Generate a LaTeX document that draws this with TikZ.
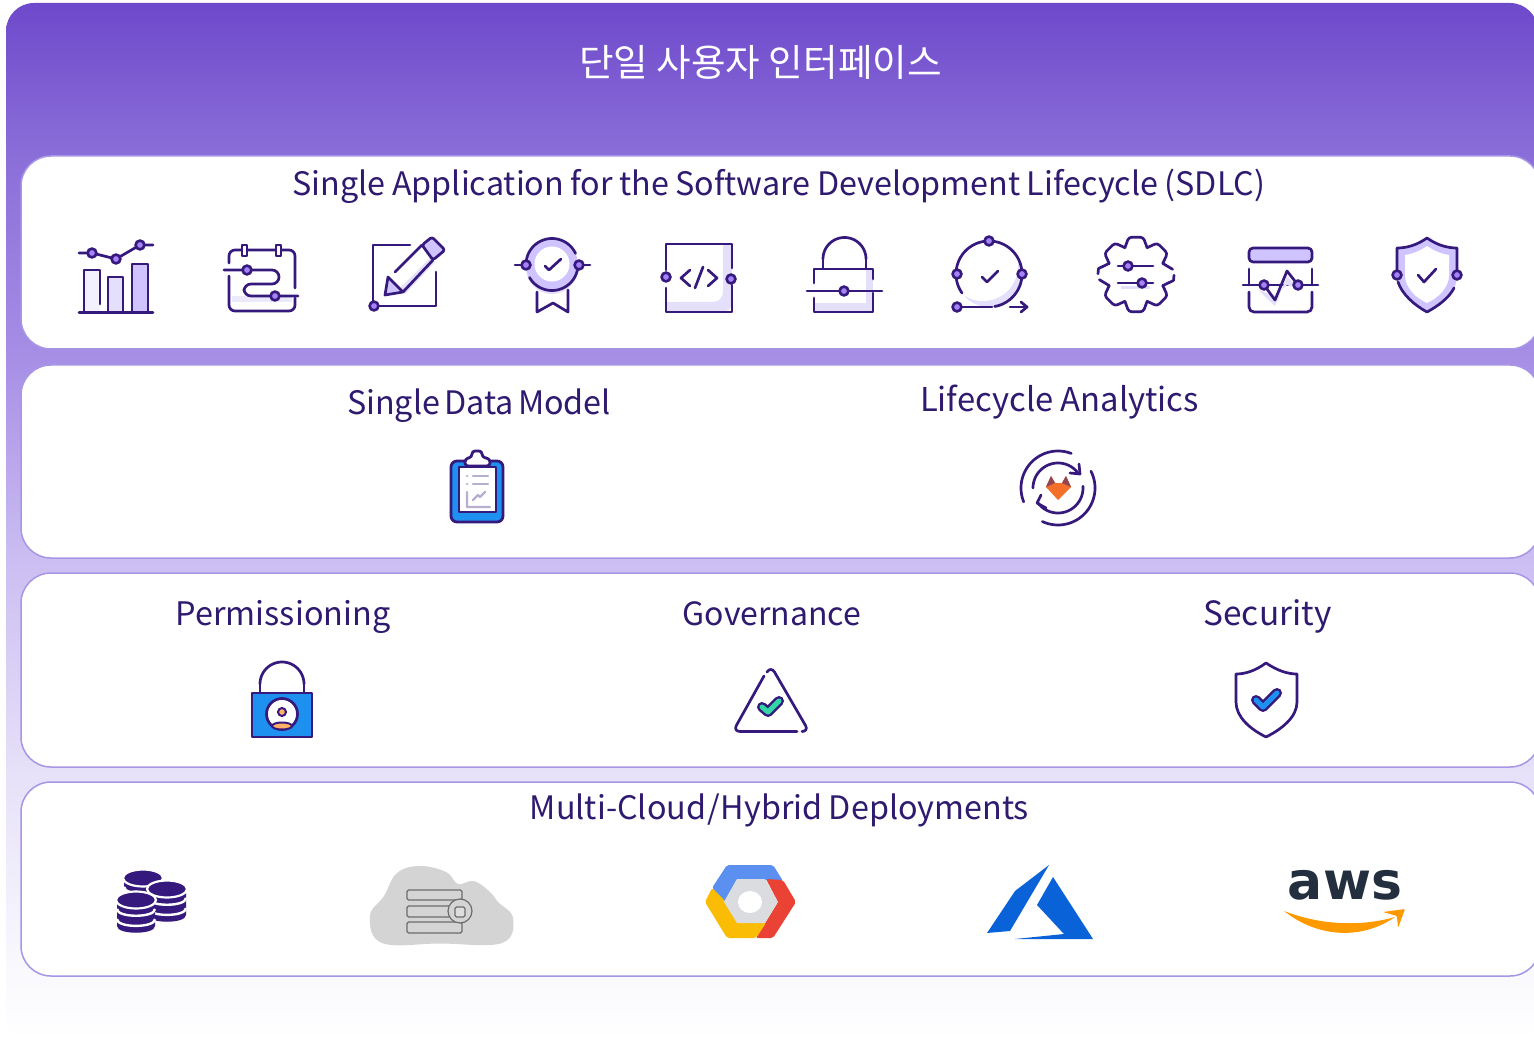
\documentclass[tikz,border=0pt]{standalone}
\usepackage{fontspec}
\setmainfont{Noto Sans CJK KR}
\newfontfamily\awsfont{DejaVu Sans}
\definecolor{icn}{HTML}{35197C}
\definecolor{dotc}{HTML}{A582F5}
\definecolor{lta}{HTML}{E4DFFB}
\definecolor{ltb}{HTML}{CFC4FF}
\definecolor{ltc}{HTML}{F3F1FD}
\definecolor{blu}{HTML}{1E90EF}
\definecolor{org}{HTML}{F2702A}
\definecolor{txt}{HTML}{2F1A70}
\definecolor{pstroke}{HTML}{A795E6}
\definecolor{gblue}{RGB}{91,143,240}
\definecolor{gred}{RGB}{234,67,53}
\definecolor{gyel}{RGB}{251,188,5}
\definecolor{ggray}{RGB}{218,220,224}
\definecolor{azu}{RGB}{10,98,216}
\definecolor{awsd}{RGB}{35,47,62}
\definecolor{awso}{RGB}{255,153,0}
\definecolor{teal1}{RGB}{51,214,166}
\definecolor{bga}{RGB}{250,250,254}
\definecolor{bgb}{RGB}{231,225,249}
\definecolor{bgc}{RGB}{205,191,242}
\definecolor{bgd}{RGB}{167,143,230}
\definecolor{bge}{RGB}{138,109,216}
\definecolor{bgf}{RGB}{110,73,203}
\pgfdeclareverticalshading{bgshade}{100bp}{
 color(0bp)=(white); color(25bp)=(white);
 color(28bp)=(bga);
 color(37.8bp)=(bgb);
 color(47.9bp)=(bgc);
 color(57.8bp)=(bgd);
 color(67.9bp)=(bge);
 color(75bp)=(bgf);
 color(100bp)=(bgf)}
\tikzset{
 ic/.style={draw=icn,line width=2.7pt,line cap=round,line join=round},
 ptdot/.style={draw=icn,fill=dotc,line width=2.6pt},
 panel/.style={draw=pstroke,fill=white,line width=1.5pt,rounded corners=30pt},
 head/.style={anchor=base,text=txt,inner sep=0pt},
 gray line/.style={draw=gray!85!black,line width=1.2pt,rounded corners=1.5pt}
}
\newcommand\hf[2]{\fontsize{#1}{36}\selectfont\spaceskip=#2em\relax}
\newcommand\sarc[6][]{\draw[ic,#1] plot[domain=#5:#6,samples=50] ({#2+#4*cos(\x)},{#3+#4*sin(\x)});}
\newcommand\pdot[2]{\draw[ptdot] (#1,#2) circle[radius=4.4pt];}
\newcommand\cyl[4]{% cx top rx height
 \fill[icn] (#1-#3,#2) -- (#1-#3,#2+#4) .. controls (#1-#3,#2+#4+9) and (#1+#3,#2+#4+9) .. (#1+#3,#2+#4) -- (#1+#3,#2) -- cycle;
 \draw[white,line width=2.4pt] (#1-#3,#2+9) .. controls (#1-#3,#2+18) and (#1+#3,#2+18) .. (#1+#3,#2+9);
 \draw[white,line width=2.4pt] (#1-#3,#2+#4*0.62+3) .. controls (#1-#3,#2+#4*0.62+12) and (#1+#3,#2+#4*0.62+12) .. (#1+#3,#2+#4*0.62+3);
 \draw[white,line width=2.2pt,fill=icn] (#1,#2) ellipse[x radius=#3+1,y radius=8.5];
}
\begin{document}
\begin{tikzpicture}[x=1pt,y=-1pt]
\useasboundingbox (0,0) rectangle (1534,1040);
\clip (0,0) rectangle (1534,1040);
% background
\path[shading=bgshade,rounded corners=28pt] (6,3) rectangle (1538,1042);
% panels
\draw[panel] (21,156) rectangle (1540,349);
\draw[panel] (21,365) rectangle (1540,558);
\draw[panel] (21,573) rectangle (1540,767);
\draw[panel] (21,782) rectangle (1540,976);
% texts
\node[anchor=base,text=white,font=\fontsize{37.6}{40}\selectfont,inner sep=0pt] (title) at (760.5,76.5) {단일 사용자 인터페이스};
\node[head,font=\hf{32.3}{0.2}] (sdlc) at (779,196) {Single Application for the Software Development Lifecycle (SDLC)};
\node[head,font=\hf{32.3}{0.13}] (sdm) at (479,414) {Single Data Model};
\node[head,font=\hf{32.8}{0.22}] (lca) at (1059.5,412) {Lifecycle Analytics};
\node[head,font=\hf{32.4}{0.2}] (perm) at (283,625) {Permissioning};
\node[head,font=\hf{32}{0.2}] (gov) at (772,625) {Governance};
\node[head,font=\hf{33.4}{0.2}] (sec) at (1267.5,625) {Security};
\node[head,font=\hf{32.3}{0.2}] (multi) at (779.5,819) {Multi-Cloud\hspace{0.03em}/\hspace{0.03em}Hybrid Deployments};
%%% Icon 1 bars
\fill[ltc] (84,270) rectangle (100,312);
\fill[lta] (108,277) rectangle (123,312);
\fill[ltb] (132,264) rectangle (148,312);
\draw[ic] (84,312) -- (84,270) -- (100,270) -- (100,304);
\draw[ic] (108,312) -- (108,277) -- (123,277) -- (123,312);
\draw[ic] (132,312) -- (132,264) -- (148,264) -- (148,312);
\draw[ic] (79,312.5) -- (153,312.5);
\draw[ic] (79,253) -- (92,253) -- (116,259) -- (140,245) -- (153,245);
\pdot{92}{253}\pdot{116}{259}\pdot{140}{245}
%%% Icon 2 calendar
\fill[lta!70] (232,296) rectangle (292,302);
\draw[ic,rounded corners=6pt] (229,276) -- (229,311) -- (295,311) -- (295,298);
\draw[ic,rounded corners=6pt] (229,263) -- (229,250) -- (295,250) -- (295,288);
\draw[ic,fill=white] (242,245) rectangle (247,256);
\draw[ic,fill=white] (276,245) rectangle (281,256);
\draw[ic,rounded corners=7pt] (224,270) -- (279,270) -- (279,284) -- (244,284) -- (244,296) -- (298,296);
\pdot{247}{270}\pdot{275}{296}
%%% Icon 3 edit
\fill[lta] (400,288) -- (430,258) -- (435,262) -- (405,294) -- cycle;
\draw[ic] (410,245) -- (373,245) -- (373,306) -- (436,306) -- (436,272);
\draw[ic,fill=ltb,rounded corners=2.5pt] (422,245) -- (432,237) -- (445,250) -- (433,260) -- cycle;
\draw[ic] (422,245) -- (395,272);
\draw[ic] (433,260) -- (403,292);
\draw[ic,fill=ltb] (388,277) -- (385,295) -- (403,292) -- cycle;
\pdot{374}{306}
%%% Icon 4 badge
\fill[lta] (552,268) circle[radius=26pt];
\fill[ltb] (552,264.5) circle[radius=26pt];
\fill[white] (552,264) circle[radius=17.5pt];
\sarc{552}{264.5}{26}{180}{335}
\sarc{552}{264.5}{26}{0}{150}
\draw[ic] (515,265) -- (526,265);
\draw[ic] (579,265) -- (590,265);
\draw[ic] (537,292) -- (537,312) -- (553,303) -- (568,312) -- (568,290);
\draw[ic] (545,266) -- (549,270) -- (561,259);
\pdot{526}{265}\pdot{579}{265}
%%% Icon 5 code
\fill[lta,rounded corners=10pt] (723,244) -- (732,244) -- (732,312) -- (666,312) -- (666,302) -- (723,302) -- cycle;
\fill[lta] (666,312) rectangle (690,302);
\fill[lta] (732,244) rectangle (723,270);
\draw[ic] (666,270) -- (666,244) -- (732,244) -- (732,268);
\draw[ic] (666,288) -- (666,312) -- (732,312) -- (732,285);
\draw[ic] (690,270) -- (681,278) -- (690,286);
\draw[ic] (703,267) -- (695,288);
\draw[ic] (708,270) -- (717,278) -- (708,286);
\pdot{666}{277}\pdot{731}{279}
%%% Icon 6 lock
\fill[lta] (866,269) rectangle (873,312);
\fill[lta] (814,303) rectangle (873,312);
\draw[ic] (823,268) -- (823,259);
\draw[ic] (866,268) -- (866,259);
\sarc{844.5}{259}{21.5}{180}{360}
\draw[ic] (814,283) -- (814,269) -- (873,269) -- (873,279);
\draw[ic] (814,298) -- (814,312) -- (873,312) -- (873,293);
\draw[ic] (807,291) -- (882,291);
\pdot{844}{291}
%%% Icon 7 cycle
\begin{scope}
\clip (989,274) circle[radius=33pt];
\fill[lta] (956,240) rectangle (1023,308);
\fill[white] (983,266) circle[radius=35pt];
\end{scope}
\sarc{989}{274}{33}{180}{440}
\sarc{989}{274}{33}{145}{180}
\draw[ic] (957,307) -- (992,307);
\draw[ic] (1010,307) -- (1027,307);
\draw[ic] (1021,302) -- (1027,307) -- (1021,312);
\draw[ic] (982,277) -- (987,282) -- (998,271);
\pdot{989}{241}\pdot{957}{274}\pdot{1022}{274}\pdot{957}{307}
%%% Icon 8 gear
\begin{scope}[shift={(1136,274.5)}]
\foreach \a in {45,90,135,225,270,315}{
 \draw[ic,rounded corners=3pt] (\a-22.5:29) -- (\a-11:38) -- (\a+11:38) -- (\a+22.5:29);
}
\foreach \a in {0,180}{
 \draw[ic] (\a-22.5:29) -- (\a-8:37);
 \draw[ic] (\a+1:38) -- (\a+9:38) -- (\a+22.5:29);
}
\end{scope}
\draw[lta,line width=3pt] (1121,288) -- (1150,288);
\draw[ic] (1118,266) -- (1153,266);
\draw[ic] (1118,283) -- (1153,283);
\pdot{1128}{266}\pdot{1142}{283}
%%% Icon 9 monitor
\draw[ic,fill=ltb,rounded corners=4pt] (1249,262) -- (1249,248) -- (1312,248) -- (1312,262) -- cycle;
\draw[ic] (1249,269) -- (1249,285);
\draw[ic] (1312,269) -- (1312,285);
\draw[ic] (1243,285) -- (1318,285);
\draw[ic,rounded corners=5pt] (1249,292) -- (1249,312) -- (1312,312) -- (1312,292);
\fill[lta] (1258,290) -- (1275,306) -- (1287,276) -- (1300,290) -- (1287,285) -- (1275,296) -- cycle;
\draw[ic] (1264,285) -- (1275,300) -- (1287,271) -- (1298,285);
\pdot{1264}{285}\pdot{1298}{285}
%%% Icon 10 shield
\fill[ltb] (1427,238) .. controls (1417,245) and (1407,248) .. (1397,248) -- (1397,275) .. controls (1397,292) and (1412,304) .. (1427,312) .. controls (1442,304) and (1457,292) .. (1457,275) -- (1457,248) .. controls (1447,248) and (1437,245) .. (1427,238) -- cycle;
\fill[white] (1427,246) .. controls (1420,251) and (1412,254) .. (1405,255) -- (1405,275) .. controls (1405,288) and (1416,298) .. (1427,303) .. controls (1438,298) and (1449,288) .. (1449,275) -- (1449,255) .. controls (1442,254) and (1434,251) .. (1427,246) -- cycle;
\draw[ic] (1397,270) -- (1397,248) .. controls (1407,248) and (1417,245) .. (1427,238) .. controls (1437,245) and (1447,248) .. (1457,248) -- (1457,270);
\draw[ic] (1398,282) .. controls (1402,294) and (1414,305) .. (1427,312) .. controls (1438,306) and (1449,298) .. (1454,288);
\draw[ic] (1418,275) -- (1424,282) -- (1436,269);
\pdot{1397}{275}\pdot{1457}{275}
%%% Clipboard
\draw[ic,fill=blu,rounded corners=6pt,line width=2.8pt] (451,461) rectangle (503,522);
\draw[ic,fill=white,line width=2.8pt] (459,467) rectangle (496,512);
\draw[ic,fill=white,line width=2.8pt,rounded corners=3pt] (465,466) -- (465,459) -- (472,457) -- (472,451) -- (482,451) -- (482,457) -- (490,459) -- (490,466) -- cycle;
\draw[line width=2.2pt,line cap=round,draw=icn!35] (467,476) -- (467.3,476) (473,476) -- (488,476) (467,484) -- (467.3,484) (473,484) -- (488,484);
\draw[line width=2.2pt,line cap=round,line join=round,draw=icn!35] (467,492) -- (467,507) -- (490,507) (473,500) -- (478,495) -- (480,497) -- (485,492);
%%% Lifecycle analytics
\sarc{1058}{488}{37}{-69}{-202}
\sarc{1058}{488}{37}{-27}{115}
\sarc{1058}{488}{25}{-180}{-37}
\sarc{1058}{488}{25}{-4}{143}
\draw[ic] (1079,464) -- (1080,474) -- (1070,473);
\draw[ic] (1041,495) -- (1037,503) -- (1046,508);
\fill[org] (1046,487) -- (1051,476) -- (1055,483) -- (1062,483) -- (1066,476) -- (1071,487) -- (1058,500) -- cycle;
\fill[icn!50!org] (1046,487) -- (1051,476) -- (1055,483) -- cycle;
\fill[icn!50!org] (1071,487) -- (1066,476) -- (1062,483) -- cycle;
%%% Permission lock
\draw[ic] (260,693) -- (260,684);
\draw[ic] (304,693) -- (304,684);
\sarc{282}{684}{22}{180}{360}
\draw[ic,fill=blu] (252,693) rectangle (312,737);
\draw[ic,fill=white] (282,714) circle[radius=15.5pt];
\draw[ic,fill=orange!60,line width=2pt] (282,712) circle[radius=4pt];
\draw[ic,fill=orange!60,line width=2pt] (282,726) ellipse[x radius=10,y radius=3.5];
%%% Governance triangle
\draw[ic,rounded corners=7pt] (764,676) -- (733,731.5) -- (797,731.5);
\draw[ic,rounded corners=7pt] (802,731.5) -- (809,731.5) -- (771,666) -- (767,672);
\draw[icn,line width=10pt,line cap=round,line join=round] (762,707) -- (768,712) -- (779,701);
\draw[teal1,line width=5pt,line cap=round,line join=round] (762,707) -- (768,712) -- (779,701);
%%% Security shield
\draw[ic,fill=white] (1266,663) .. controls (1278,671) and (1288,674) .. (1297,674) -- (1297,702) .. controls (1297,717) and (1282,729) .. (1266,737) .. controls (1250,729) and (1236,717) .. (1236,702) -- (1236,674) .. controls (1245,674) and (1255,671) .. (1266,663) -- cycle;
\draw[icn,line width=10pt,line cap=round,line join=round] (1256,700) -- (1263,707) -- (1277,693);
\draw[blu,line width=5pt,line cap=round,line join=round] (1256,700) -- (1263,707) -- (1277,693);
%%% Databases
\cyl{143}{878}{19}{10}
\cyl{167}{889}{19}{26}
\cyl{136}{900}{19}{26}
%%% Cloud
\fill[black!17] plot[smooth cycle,tension=.65] coordinates {(370,916) (384,896) (397,873) (420,866) (446,872) (458,884) (474,881) (490,892) (498,902) (513,918) (502,943) (440,943.5) (382,943)};
\draw[gray line] (407,890) rectangle (462,900);
\draw[gray line] (407,906) rectangle (462,917);
\draw[gray line] (407,922) rectangle (462,933);
\draw[gray line,fill=black!17] (460,911) circle[radius=12pt];
\draw[gray line,fill=black!13] (455,907) rectangle (465,917);
%%% Google cloud
\fill[gblue,rounded corners=2pt] (712,888) -- (727,865) -- (773,865) -- (783,881) -- (737,879) -- (724,902) -- cycle;
\fill[gred,rounded corners=2pt] (766,879) -- (783,880) -- (796,902) -- (773,938) -- (756,938) -- (778,902) -- cycle;
\fill[gyel,rounded corners=2pt] (712,888) -- (724,900) -- (737,923) -- (766,923) -- (756,938) -- (727,938) -- (705,902) -- cycle;
\fill[ggray] (737,879) -- (765,879) -- (778,902) -- (765,923) -- (737,923) -- (724,902) -- cycle;
\fill[white] (750,902) ellipse[x radius=12,y radius=11];
%%% Azure
\fill[azu] (1049,865) -- (1015,891) -- (987,933) -- (1010,931) -- cycle;
\fill[azu] (1053,877) -- (1037,905) -- (1064,934) -- (1015,939) -- (1093,939) -- cycle;
%%% AWS
\node[anchor=base,inner sep=0pt,text=awsd,font=\awsfont\bfseries\fontsize{52}{60}\selectfont] (aws) at (1345,899) {aws};
\fill[awso] (1284,911) .. controls (1320,925) and (1360,927) .. (1395,917) .. controls (1362,940) and (1318,938) .. (1284,911) -- cycle;
\fill[awso,rounded corners=1pt] (1383,912) -- (1405,909) -- (1398,928) -- (1397,916) -- cycle;
\end{tikzpicture}
\end{document}
